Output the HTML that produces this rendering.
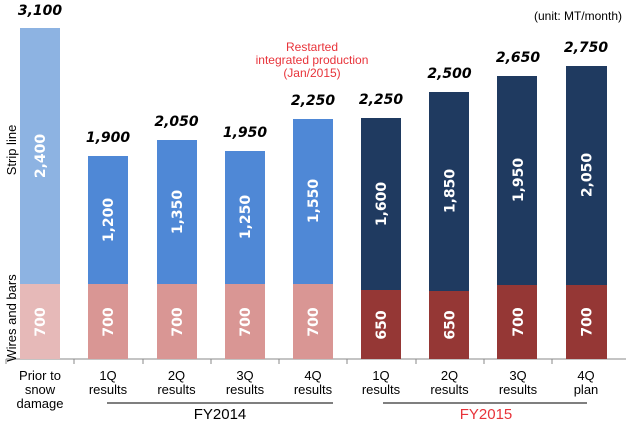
<!DOCTYPE html>
<html><head><meta charset="utf-8"><style>
body{margin:0;background:#fff;}
svg text{font-family:"Liberation Sans",sans-serif;}
svg text.v{font-family:"DejaVu Sans",sans-serif;font-size:14px;font-weight:bold;font-style:italic;}
svg text.i{font-family:"DejaVu Sans",sans-serif;font-size:14px;font-weight:bold;fill:#fff;}
</style></head><body>
<svg width="626" height="423" xmlns="http://www.w3.org/2000/svg">
<line x1="6" y1="359" x2="626" y2="359" stroke="#888" stroke-width="1"/>
<g stroke="#888"><line x1="6" y1="359" x2="6" y2="364"/><line x1="74" y1="359" x2="74" y2="364"/><line x1="143" y1="359" x2="143" y2="364"/><line x1="211" y1="359" x2="211" y2="364"/><line x1="279" y1="359" x2="279" y2="364"/><line x1="347" y1="359" x2="347" y2="364"/><line x1="416" y1="359" x2="416" y2="364"/><line x1="484" y1="359" x2="484" y2="364"/><line x1="552" y1="359" x2="552" y2="364"/></g>
<line x1="107" y1="403" x2="333" y2="403" stroke="#555" stroke-width="1.5"/>
<line x1="383" y1="403" x2="587" y2="403" stroke="#555" stroke-width="1.5"/>
<text x="220" y="419" font-size="15" text-anchor="middle" fill="#000">FY2014</text>
<text x="486" y="419" font-size="15" text-anchor="middle" fill="#e8333a">FY2015</text>
<text x="622" y="20" font-size="12" text-anchor="end">(unit: MT/month)</text>
<text x="312" y="51" font-size="12" text-anchor="middle" fill="#e8333a">Restarted</text>
<text x="312" y="64" font-size="12" text-anchor="middle" fill="#e8333a">integrated production</text>
<text x="312" y="77" font-size="12" text-anchor="middle" fill="#e8333a">(Jan/2015)</text>
<text transform="translate(16,150) rotate(-90)" font-size="13" text-anchor="middle">Strip line</text>
<text transform="translate(16,318) rotate(-90)" font-size="13" text-anchor="middle">Wires and bars</text>
<g font-size="13" text-anchor="middle">
<text x="40" y="380">Prior to</text><text x="40" y="394">snow</text><text x="40" y="408">damage</text>
<text x="108" y="380">1Q</text><text x="108" y="394">results</text>
<text x="176.5" y="380">2Q</text><text x="176.5" y="394">results</text>
<text x="245" y="380">3Q</text><text x="245" y="394">results</text>
<text x="313" y="380">4Q</text><text x="313" y="394">results</text>
<text x="381" y="380">1Q</text><text x="381" y="394">results</text>
<text x="449.5" y="380">2Q</text><text x="449.5" y="394">results</text>
<text x="518" y="380">3Q</text><text x="518" y="394">results</text>
<text x="586" y="380">4Q</text><text x="586" y="394">plan</text>
</g>
<rect x="20" y="28" width="40" height="256" fill="#8db3e2"/><rect x="20" y="284" width="40" height="75" fill="#e6b9b8"/>
<rect x="88" y="156" width="40" height="128" fill="#4f88d6"/><rect x="88" y="284" width="40" height="75" fill="#d99694"/>
<rect x="157" y="140" width="40" height="144" fill="#4f88d6"/><rect x="157" y="284" width="40" height="75" fill="#d99694"/>
<rect x="225" y="151" width="40" height="133" fill="#4f88d6"/><rect x="225" y="284" width="40" height="75" fill="#d99694"/>
<rect x="293" y="119" width="40" height="165" fill="#4f88d6"/><rect x="293" y="284" width="40" height="75" fill="#d99694"/>
<rect x="361" y="118" width="40" height="172" fill="#1f3a60"/><rect x="361" y="290" width="40" height="69" fill="#953735"/>
<rect x="429" y="92" width="40" height="199" fill="#1f3a60"/><rect x="429" y="291" width="40" height="68" fill="#953735"/>
<rect x="497" y="76" width="40" height="209" fill="#1f3a60"/><rect x="497" y="285" width="40" height="74" fill="#953735"/>
<rect x="566" y="66" width="41" height="219" fill="#1f3a60"/><rect x="566" y="285" width="41" height="74" fill="#953735"/>
<g text-anchor="middle">
<text class="v" x="40" y="15">3,100</text><text class="v" x="108" y="142">1,900</text><text class="v" x="176.5" y="126">2,050</text><text class="v" x="245" y="137">1,950</text><text class="v" x="313" y="105">2,250</text>
<text class="v" x="381" y="104">2,250</text><text class="v" x="449.5" y="78">2,500</text><text class="v" x="518" y="62">2,650</text><text class="v" x="586" y="52">2,750</text>
</g>
<g text-anchor="middle">
<text class="i" transform="translate(45,156) rotate(-90)">2,400</text>
<text class="i" transform="translate(113,220) rotate(-90)">1,200</text>
<text class="i" transform="translate(182,212) rotate(-90)">1,350</text>
<text class="i" transform="translate(250,217) rotate(-90)">1,250</text>
<text class="i" transform="translate(318,201) rotate(-90)">1,550</text>
<text class="i" transform="translate(386,204) rotate(-90)">1,600</text>
<text class="i" transform="translate(454.5,191) rotate(-90)">1,850</text>
<text class="i" transform="translate(523,180) rotate(-90)">1,950</text>
<text class="i" transform="translate(591.5,175) rotate(-90)">2,050</text>
<text class="i" transform="translate(45,322) rotate(-90)">700</text>
<text class="i" transform="translate(113,322) rotate(-90)">700</text>
<text class="i" transform="translate(182,322) rotate(-90)">700</text>
<text class="i" transform="translate(250,322) rotate(-90)">700</text>
<text class="i" transform="translate(318,322) rotate(-90)">700</text>
<text class="i" transform="translate(386,325) rotate(-90)">650</text>
<text class="i" transform="translate(454.5,325) rotate(-90)">650</text>
<text class="i" transform="translate(523,322) rotate(-90)">700</text>
<text class="i" transform="translate(591.5,322) rotate(-90)">700</text>
</g>
</svg>
</body></html>
